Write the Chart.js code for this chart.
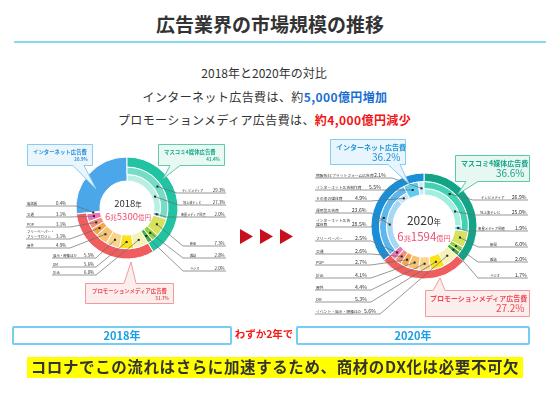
<!DOCTYPE html>
<html lang="ja"><head><meta charset="utf-8">
<script src="https://cdn.jsdelivr.net/npm/chart.js@4"></script>
<style>
html,body{margin:0;padding:0;background:#fff;}
#page{position:relative;width:560px;height:396px;overflow:hidden;font-family:'Noto Sans CJK JP','Noto Sans',sans-serif;color:#333;}
.t{position:absolute;white-space:nowrap;line-height:1;}
canvas{position:absolute;left:0;top:0;}
svg{position:absolute;left:0;top:0;}
</style></head><body>
<div id="page">
  <div class="t" style="left:0;width:540px;top:14px;text-align:center;font-size:19px;font-weight:700;color:#333;">広告業界の市場規模の推移</div>
  <div style="position:absolute;left:14px;top:41px;width:532px;height:2px;background:#84d9f4;"></div>
  <div class="t" style="left:0;width:528px;top:67px;text-align:center;font-size:12px;">2018年と2020年の対比</div>
  <div class="t" style="left:0;width:530px;top:91px;text-align:center;font-size:12px;letter-spacing:.4px;">インターネット広告費は、約<b style="color:#1a6fd2">5,000億円増加</b></div>
  <div class="t" style="left:0;width:529px;top:114px;text-align:center;font-size:12px;letter-spacing:.4px;">プロモーションメディア広告費は、<b style="color:#f01414">約4,000億円減少</b></div>
  <canvas id="c18" width="560" height="396"></canvas>
  <canvas id="c20" width="560" height="396"></canvas>
  <svg id="deco" width="560" height="396"></svg>
  <div style="position:absolute;left:12px;top:326px;width:216px;height:15px;border:2px solid #74cdf2;border-radius:2px;"></div>
  <div class="t" style="left:12px;width:220px;top:330px;text-align:center;font-size:11px;font-weight:700;color:#1aa0e4;">2018年</div>
  <div class="t" style="left:232px;width:64px;top:329px;text-align:center;font-size:10.5px;font-weight:700;color:#f51b1b;">わずか2年で</div>
  <div style="position:absolute;left:296px;top:326px;width:230px;height:15px;border:2px solid #74cdf2;border-radius:2px;"></div>
  <div class="t" style="left:296px;width:234px;top:330px;text-align:center;font-size:11px;font-weight:700;color:#1aa0e4;">2020年</div>
  <div style="position:absolute;left:27px;top:357px;width:496px;height:21px;background:#ffff00;"></div>
  <div class="t" style="left:27px;width:496px;top:359px;text-align:center;font-size:15.5px;font-weight:700;letter-spacing:.6px;color:#333;">コロナでこの流れはさらに加速するため、商材のDX化は必要不可欠</div>
</div>
<script>
// ---------------- data ----------------
const groupNames = ['マスコミ4媒体広告費', 'プロモーションメディア広告費', 'インターネット広告費'];
const groupShare2018 = [41.4, 31.7, 26.9];
const groupShare2020 = [36.6, 27.2, 36.2];
const massItems = ['テレビメディア', '新聞', '雑誌', 'ラジオ'];
const mass2018 = [29.3, 7.3, 2.8, 2.0];
const mass2020 = [26.9, 6.0, 2.0, 1.7];
const tvItems = ['地上波テレビ', '衛星メディア関連'];
const tv2018 = [27.3, 2.0];
const tv2020 = [25.0, 1.9];
const promoItems2018 = ['折込', 'DM', '展示・映像ほか', '屋外', 'フリーペーパー・フリーマガジン', 'POP', '交通', '電話帳'];
const promo2018 = [6.0, 5.6, 5.5, 4.9, 3.1, 3.1, 3.1, 0.4];
const promoItems2020 = ['イベント・展示・映像ほか', 'DM', '屋外', '折込', 'POP', '交通', 'フリーペーパー'];
const promo2020 = [5.6, 5.3, 4.4, 4.1, 2.7, 2.6, 2.5];
const netItems2020 = ['インターネット広告媒体費', 'インターネット広告制作費', '物販系ECプラットフォーム広告費'];
const net2020 = [28.5, 5.5, 2.1];
const netMediaItems2020 = ['運用型広告費', 'その他の媒体費'];
const netMedia2020 = [23.6, 4.9];
const yearLabels = ['2018', '2020'];
const totalLabels = [['6', '兆', '5300', '億円'], ['6', '兆', '1594', '億円']];

// ---------------- colours ----------------
const C = {
  mass18: '#22c3a3', tvMid18: '#76dcc6', tvIn18: '#b7f0e3', sat18: '#74cdef',
  mass20: '#13a487', tvMid20: '#43d1b3', tvIn20: '#a2eedf', sat20: '#4cd8ea',
  news: '#d5e25a', mag: '#8fd13f', radio: '#45b33a',
  promo: '#ef5d5e',
  net18: '#4ba7ea', net20: '#1a8fd8', netMid20: '#5db6ec', netUse: '#a4d8f5', netOther: '#c5e6f8', netProd: '#5fcdf0', netEC: '#c8edfa'
};
const promoCols2018 = ['#f4f2b6', '#fbe21c', '#f8d58a', '#f6c274', '#f5a54c', '#f48f7c', '#ef73b8', '#dcefff'];
const promoCols2020 = ['#f4f2b6', '#fbe21c', '#f8d58a', '#f6c274', '#f5a54c', '#f48f7c', '#ef73b8'];
const H = 'rgba(0,0,0,0)';

function rep(v, n) { return Array(n).fill(v); }

// ---------------- ring structures ----------------
const ring18 = [
  { data: groupShare2018, names: groupNames, colors: [C.mass18, C.promo, H], span: [1, 1, 1] },
  { data: [mass2018[0], ...mass2018.slice(1), ...promo2018, groupShare2018[2]],
    names: [massItems[0], ...massItems.slice(1), ...promoItems2018, groupNames[2]],
    colors: [C.tvMid18, ...rep(H, 3 + promo2018.length + 1)], span: rep(1, 13) },
  { data: [...tv2018, ...mass2018.slice(1), ...promo2018, groupShare2018[2]],
    names: [...tvItems, ...massItems.slice(1), ...promoItems2018, groupNames[2]],
    colors: [C.tvIn18, C.sat18, C.news, C.mag, C.radio, ...promoCols2018, C.net18],
    span: [1, 1, 2, 2, 2, ...rep(2, promo2018.length), 3] }
];
const ring20 = [
  { data: groupShare2020, names: groupNames, colors: [C.mass20, C.promo, C.net20], span: [1, 1, 1] },
  { data: [mass2020[0], ...mass2020.slice(1), ...promo2020, ...net2020],
    names: [massItems[0], ...massItems.slice(1), ...promoItems2020, ...netItems2020],
    colors: [C.tvMid20, ...rep(H, 3 + promo2020.length), C.netMid20, H, H], span: rep(1, 14) },
  { data: [...tv2020, ...mass2020.slice(1), ...promo2020, ...netMedia2020, ...net2020.slice(1)],
    names: [...tvItems, ...massItems.slice(1), ...promoItems2020, ...netMediaItems2020, ...netItems2020.slice(1)],
    colors: [C.tvIn20, C.sat20, C.news, C.mag, C.radio, ...promoCols2020, C.netUse, C.netOther, C.netProd, C.netEC],
    span: [1, 1, 2, 2, 2, ...rep(2, promo2020.length), 1, 1, 2, 2] }
];

// ---------------- label layout ----------------
const lab18 = [
  { ring: 1, idx: 0, side: 'R', y: 193, ex: 177, end: 226, nx: 182, f: 0.52 },
  { ring: 2, idx: 0, side: 'R', y: 205, ex: 178, end: 226, nx: 183, f: 0.69 },
  { ring: 2, idx: 1, side: 'R', y: 217, ex: 166, end: 226, nx: 181 },
  { ring: 2, idx: 2, side: 'R', y: 246, ex: 183, end: 226, nx: 190 },
  { ring: 2, idx: 3, side: 'R', y: 258, ex: 183, end: 226, nx: 190 },
  { ring: 2, idx: 4, side: 'R', y: 271, ex: 183, end: 226, nx: 190 },
  { ring: 2, idx: 12, side: 'L', y: 206, sx: 26, ex: 76, vx: 56 },
  { ring: 2, idx: 11, side: 'L', y: 217, sx: 26, ex: 70, vx: 56 },
  { ring: 2, idx: 10, side: 'L', y: 227, sx: 26, ex: 70, vx: 56 },
  { ring: 2, idx: 9, side: 'L', y: 239, sx: 26, ex: 70, vx: 56, wrap: 8 },
  { ring: 2, idx: 8, side: 'L', y: 248, sx: 26, ex: 70, vx: 56 },
  { ring: 2, idx: 7, side: 'L', y: 258, sx: 52, ex: 96, vx: 84 },
  { ring: 2, idx: 6, side: 'L', y: 267, sx: 52, ex: 96, vx: 84 },
  { ring: 2, idx: 5, side: 'L', y: 275, sx: 52, ex: 96, vx: 84 }
];
const lab20 = [
  { ring: 1, idx: 0, side: 'R', y: 200, ex: 473, end: 528, nx: 481, f: 0.4 },
  { ring: 2, idx: 0, side: 'R', y: 215, ex: 474, end: 528, nx: 480, f: 0.72 },
  { ring: 2, idx: 1, side: 'R', y: 231, ex: 466, end: 528, nx: 478 },
  { ring: 2, idx: 2, side: 'R', y: 247, ex: 478, end: 528, nx: 490 },
  { ring: 2, idx: 3, side: 'R', y: 262, ex: 478, end: 528, nx: 490 },
  { ring: 2, idx: 4, side: 'R', y: 278, ex: 478, end: 528, nx: 490 },
  { ring: 2, idx: 15, side: 'L', y: 178, sx: 315, ex: 392, vr: 386 },
  { ring: 2, idx: 14, side: 'L', y: 190, sx: 315, ex: 386, vr: 381 },
  { ring: 2, idx: 13, side: 'L', y: 201, sx: 315, ex: 371, vr: 367 },
  { ring: 2, idx: 12, side: 'L', y: 213, sx: 315, ex: 371, vr: 367 },
  { ring: 1, idx: 11, side: 'L', y: 227, sx: 315, ex: 371, vr: 367, wrap: 9 },
  { ring: 2, idx: 11, side: 'L', y: 241, sx: 315, ex: 371, vr: 367 },
  { ring: 2, idx: 10, side: 'L', y: 254, sx: 315, ex: 371, vr: 367 },
  { ring: 2, idx: 9, side: 'L', y: 265, sx: 315, ex: 371, vr: 367 },
  { ring: 2, idx: 8, side: 'L', y: 278, sx: 315, ex: 371, vr: 367 },
  { ring: 2, idx: 7, side: 'L', y: 290, sx: 315, ex: 371, vr: 367 },
  { ring: 2, idx: 6, side: 'L', y: 302, sx: 315, ex: 371, vr: 367 },
  { ring: 2, idx: 5, side: 'L', y: 314, sx: 315, ex: 380, vr: 376 }
];

const page = document.getElementById('page');
// text helper: small sizes are drawn at 4x and scaled down (browser minimum font size)
function addText(txt, x, y, size, opts = {}) {
  const k = 4;
  const d = document.createElement('div');
  d.className = 't';
  d.textContent = txt;
  d.style.fontSize = (size * k) + 'px';
  d.style.top = (y - size) + 'px';
  d.style.color = opts.color || '#333';
  if (opts.weight) d.style.fontWeight = opts.weight;
  if (opts.align === 'right') {
    d.style.right = (560 - x) + 'px';
    d.style.transformOrigin = 'right top';
  } else {
    d.style.left = x + 'px';
    d.style.transformOrigin = 'left top';
  }
  d.style.transform = `scale(${1 / k})`;
  page.appendChild(d);
  return d;
}

// plugin: let whole wedges span several rings
const spanPlugin = {
  id: 'spanRings',
  afterDatasetsUpdate(chart) {
    const metas = chart.data.datasets.map((d, i) => chart.getDatasetMeta(i));
    chart.data.datasets.forEach((ds, i) => {
      metas[i].data.forEach((arc, j) => {
        const s = ds.span[j];
        if (s > 1) arc.outerRadius = metas[i - s + 1].data[0].outerRadius;
      });
    });
  }
};
// plugin: leader lines from each labelled wedge
const leaderPlugin = {
  id: 'leaders',
  afterDatasetsDraw(chart, args, opts) {
    const ctx = chart.ctx;
    ctx.save();
    ctx.strokeStyle = '#6b6b6b';
    ctx.lineWidth = 0.7;
    opts.labels.forEach(l => {
      const arc = chart.getDatasetMeta(l.ring).data[l.idx];
      const f = l.f == null ? 0.5 : l.f;
      const a = arc.startAngle + (arc.endAngle - arc.startAngle) * f;
      const r = (arc.innerRadius + arc.outerRadius) / 2;
      const px = arc.x + Math.cos(a) * r, py = arc.y + Math.sin(a) * r;
      ctx.beginPath();
      if (l.side === 'R') { ctx.moveTo(px, py); ctx.lineTo(l.ex, l.y); ctx.lineTo(l.end, l.y); }
      else { ctx.moveTo(l.sx, l.y); ctx.lineTo(l.ex, l.y); ctx.lineTo(px, py); }
      ctx.stroke();
      ctx.fillStyle = '#222';
      ctx.fillRect(px - 1, py - 1, 2, 2);
    });
    ctx.restore();
  }
};

function makeDonut(id, rings, cx, cy, R, hole, weights, labels, fs) {
  const S = 2 * R + 1;
  const left = cx - S / 2, top = cy - S / 2;
  new Chart(document.getElementById(id), {
    type: 'doughnut',
    data: {
      labels: rings[2].names,
      datasets: rings.map((rg, i) => ({
        data: rg.data,
        backgroundColor: rg.colors,
        borderColor: rg.colors.map(c => c === H ? H : '#ffffff'),
        borderWidth: rg.colors.map(c => c === H ? 0 : 1),
        weight: weights[i],
        span: rg.span
      }))
    },
    options: {
      responsive: false, animation: false, events: [],
      cutout: hole,
      layout: { padding: { left: left, top: top, right: 560 - left - S, bottom: 396 - top - S } },
      plugins: { legend: { display: false }, tooltip: { enabled: false }, leaders: { labels } }
    },
    plugins: [spanPlugin, leaderPlugin]
  });
  labels.forEach(l => {
    const rg = rings[l.ring];
    const name = rg.names[l.idx];
    const val = rg.data[l.idx].toFixed(1) + '%';
    const nfs = l.side === 'R' ? fs.nameR : fs.nameL;
    if (l.side === 'R') {
      addText(name, l.nx, l.y - 1, nfs);
      addText(val, l.end - 1, l.y - 0.8, fs.val, { align: 'right' });
    } else {
      if (l.wrap) {
        addText(name.slice(0, l.wrap), l.sx + 1, l.y - 1.2 - nfs * 1.15, nfs);
        addText(name.slice(l.wrap), l.sx + 1, l.y - 1, nfs);
      } else addText(name, l.sx + 1, l.y - 1, nfs);
      if (l.vr) addText(val, l.vr, l.y - 0.8, fs.val, { align: 'right' });
      else addText(val, l.vx, l.y - 0.8, fs.val);
    }
  });
}

makeDonut('c18', ring18, 127, 208, 51, 27, [10, 7.5, 6.5], lab18, { nameR: 3.1, nameL: 3.4, val: 4.4 });
makeDonut('c20', ring20, 424, 226, 53, 31, [8.5, 7, 6.5], lab20, { nameR: 3.4, nameL: 3.8, val: 5.2 });

// centre texts
function centre(x, y, parts, sizes, color) {
  const k = 2;
  const d = document.createElement('div');
  d.className = 't';
  d.style.left = x + 'px'; d.style.top = y + 'px';
  d.style.transformOrigin = 'left top';
  d.style.transform = `scale(${1 / k}) translate(-50%,-50%)`;
  d.style.color = color;
  parts.forEach((p, i) => { const s = document.createElement('span'); s.textContent = p; s.style.fontSize = (sizes[i] * k) + 'px'; d.appendChild(s); });
  page.appendChild(d);
}
centre(128, 203, [yearLabels[0], '年'], [9.5, 6.5], '#333');
centre(128, 216, totalLabels[0], [9.6, 6.5, 9.6, 6.5], '#f0506e');
centre(424, 220, [yearLabels[1], '年'], [12, 7.5], '#333');
centre(424, 236, totalLabels[1], [11.5, 7.2, 11.5, 7.2], '#f0506e');

// callouts
const svg = document.getElementById('deco');
const NS = 'http://www.w3.org/2000/svg';
function callout(x, y, w, h, side, t1, t2, tip, fill, stroke) {
  let d;
  if (side === 'B') d = `M${x},${y}H${x + w}V${y + h}H${t2}L${tip[0]},${tip[1]}L${t1},${y + h}H${x}Z`;
  else d = `M${x},${y}H${t1}L${tip[0]},${tip[1]}L${t2},${y}H${x + w}V${y + h}H${x}Z`;
  const p = document.createElementNS(NS, 'path');
  p.setAttribute('d', d); p.setAttribute('fill', fill); p.setAttribute('stroke', stroke); p.setAttribute('stroke-width', '1');
  svg.appendChild(p);
}
callout(27.5, 144.5, 65, 21, 'B', 73, 84, [96, 189], '#eaf5fc', '#8ccbee');
callout(158.5, 144.5, 66, 21, 'B', 170, 180, [163, 179], '#e8f8f3', '#62c9ae');
callout(85.5, 283.5, 88, 20, 'T', 124, 136, [131, 262], '#fdeeee', '#f29a9b');
callout(330.5, 139.5, 75, 25, 'B', 388, 400, [409, 184], '#e8f5fc', '#86cbee');
callout(455.5, 155.5, 74, 26, 'B', 466, 478, [458, 194], '#e7f7f2', '#5ec8ad');
callout(425.5, 290.5, 104, 26, 'T', 433, 445, [440, 278], '#fdeeee', '#f29a9b');
addText(groupNames[2], 33, 154, 5.4, { color: '#2b8fd9', weight: 700 });
addText(groupShare2018[2].toFixed(1) + '%', 88, 161, 4.4, { color: '#2b8fd9', weight: 700, align: 'right' });
addText(groupNames[0], 164, 154, 5.4, { color: '#1ba98a', weight: 700 });
addText(groupShare2018[0].toFixed(1) + '%', 220, 161, 4.4, { color: '#1ba98a', weight: 700, align: 'right' });
addText(groupNames[1], 92, 293, 5.4, { color: '#ee4a55', weight: 700 });
addText(groupShare2018[1].toFixed(1) + '%', 169, 300, 4.4, { color: '#ee4a55', weight: 700, align: 'right' });
addText(groupNames[2], 336, 150, 7, { color: '#1f93d8', weight: 700 });
addText(groupShare2020[2].toFixed(1) + '%', 401, 162, 10, { color: '#1f93d8', align: 'right' });
addText(groupNames[0], 461, 166, 7, { color: '#17a486', weight: 700 });
addText(groupShare2020[0].toFixed(1) + '%', 525, 178, 10, { color: '#17a486', align: 'right' });
addText(groupNames[1], 430, 301, 7, { color: '#ee4a55', weight: 700 });
addText(groupShare2020[1].toFixed(1) + '%', 525, 313, 10, { color: '#ee4a55', align: 'right' });

// arrows
[240, 260, 280].forEach(x => {
  const p = document.createElementNS(NS, 'polygon');
  p.setAttribute('points', `${x},229 ${x + 13},236.5 ${x},244`);
  p.setAttribute('fill', '#c8101c');
  svg.appendChild(p);
});
</script>
</body></html>
